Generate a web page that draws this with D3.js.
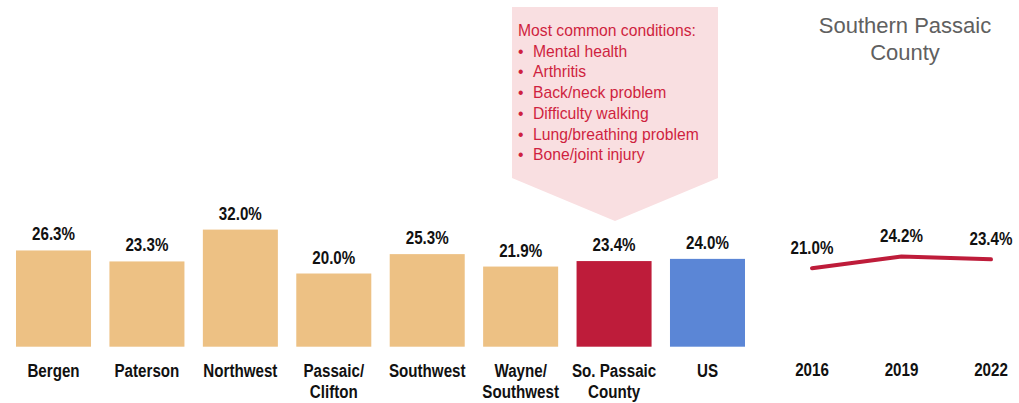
<!DOCTYPE html>
<html>
<head>
<meta charset="utf-8">
<script src="https://cdn.jsdelivr.net/npm/d3@7"></script>
<style>
  html, body { margin: 0; padding: 0; background: #fff; }
  svg { display: block; }
  .lbl { font-family: "Liberation Sans", Arial, sans-serif; font-weight: bold; fill: #111; font-size: 18.5px; }
  .note { font-family: "Liberation Sans", Arial, sans-serif; fill: #CF1F40; }
  .title { font-family: "Liberation Sans", Arial, sans-serif; fill: #606060; }
</style>
</head>
<body>
<script>
// Regional share (%) and trend for Southern Passaic County
const categories = [["Bergen"], ["Paterson"], ["Northwest"], ["Passaic/", "Clifton"], ["Southwest"], ["Wayne/", "Southwest"], ["So. Passaic", "County"], ["US"]];
const values = [26.3, 23.3, 32.0, 20.0, 25.3, 21.9, 23.4, 24.0];
const barColors = ["#EDC184", "#EDC184", "#EDC184", "#EDC184", "#EDC184", "#EDC184", "#BE1C3A", "#5B86D6"];

const years = ["2016", "2019", "2022"];
const trend = [21.0, 24.2, 23.4];

const conditionsHeading = "Most common conditions:";
const conditions = ["Mental health", "Arthritis", "Back/neck problem", "Difficulty walking", "Lung/breathing problem", "Bone/joint injury"];
const trendTitle = ["Southern Passaic", "County"];

const fmt = d => d.toFixed(1) + "%";
const NARROW = 0.82; // horizontal squeeze for the condensed bold labels

const W = 1019, H = 403;
const svg = d3.select("body").append("svg").attr("width", W).attr("height", H);

// Condensed label: centred text squeezed horizontally around its anchor
function narrowText(parent, cx, cy, lines, lineGap) {
  const g = parent.append("g").attr("transform", `translate(${cx},${cy}) scale(${NARROW},1)`);
  const t = g.append("text").attr("class", "lbl").attr("text-anchor", "middle");
  lines.forEach((l, j) => t.append("tspan").attr("x", 0).attr("y", j * (lineGap || 0)).text(l));
  return g;
}

// Callout box pointing down at the county bar
const box = { x0: 512, x1: 718, y0: 7, y1: 178, tip: 221 };
const tipX = (box.x0 + box.x1) / 2;
svg.append("path")
  .attr("d", d3.line()([[box.x0, box.y0], [box.x1, box.y0], [box.x1, box.y1], [tipX, box.tip], [box.x0, box.y1]]) + "Z")
  .attr("fill", "#F9DFE1");

const note = svg.append("g").attr("class", "note").style("font-size", "15.7px");
note.append("text").attr("x", 518).attr("y", 36).text(conditionsHeading);
conditions.forEach((c, i) => {
  const y = 56.7 + i * 20.7;
  note.append("text").attr("x", 518).attr("y", y).text("•");
  note.append("text").attr("x", 533).attr("y", y).text(c);
});

// Bar chart
const baseY = 346.7;
const x = d3.scaleBand().domain(d3.range(categories.length)).range([16, 745]).paddingInner(0.197).paddingOuter(0);
const y = d3.scaleLinear().domain([0, 32]).range([baseY, baseY - 117.1]);
const cx = i => x(i) + x.bandwidth() / 2;

svg.append("g").selectAll("rect").data(values).join("rect")
  .attr("x", (d, i) => x(i))
  .attr("width", x.bandwidth())
  .attr("y", d => y(d))
  .attr("height", d => baseY - y(d))
  .attr("fill", (d, i) => barColors[i]);

const valG = svg.append("g");
values.forEach((d, i) => narrowText(valG, cx(i), y(d) - 10, [fmt(d)]));

const catG = svg.append("g");
categories.forEach((lines, i) => narrowText(catG, cx(i), 377, lines, 21));

// Trend line
const xl = d3.scalePoint().domain(years).range([812, 991]);
const yl = d3.scaleLinear().domain([0, 32]).range([345, 345 - 117.1]);

svg.append("path")
  .datum(trend)
  .attr("d", d3.line().x((d, i) => xl(years[i])).y(d => yl(d)))
  .attr("fill", "none")
  .attr("stroke", "#BE1C3A")
  .attr("stroke-width", 4)
  .attr("stroke-linecap", "round")
  .attr("stroke-linejoin", "round");

const trendG = svg.append("g");
trend.forEach((d, i) => narrowText(trendG, xl(years[i]), yl(d) - 14, [fmt(d)]));
years.forEach(yr => narrowText(trendG, xl(yr), 376, [yr]));

const ttl = svg.append("text").attr("class", "title").style("font-size", "22px").attr("text-anchor", "middle");
trendTitle.forEach((l, j) => ttl.append("tspan").attr("x", 905).attr("y", 33 + j * 27).text(l));
</script>
</body>
</html>
